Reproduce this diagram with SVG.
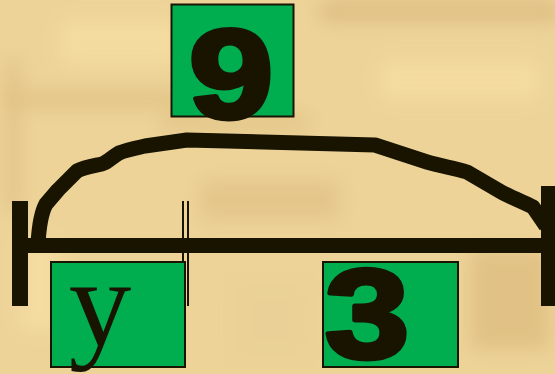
<svg xmlns="http://www.w3.org/2000/svg" width="555" height="374" viewBox="0 0 555 374">
  <style>
    .ink { fill: #181400; }
    .box { fill: #00AE50; stroke: #181400; stroke-width: 2; }
    .num { font-family: "Liberation Sans", Arial, sans-serif; font-weight: bold; font-size: 126px; fill: #181400; stroke: #181400; stroke-width: 5; stroke-linejoin: round; text-anchor: middle; }
    .var { font-family: "Liberation Serif", "Times New Roman", serif; font-size: 125px; fill: #181400; text-anchor: middle; }
  </style>
  <defs>
    <filter id="blur" x="-50%" y="-50%" width="200%" height="200%">
      <feGaussianBlur stdDeviation="9"/>
    </filter>
  </defs>
  <g id="background">
    <rect width="555" height="374" fill="#EDD398"/>
    <g filter="url(#blur)" opacity="0.85">
      <rect x="320" y="0" width="240" height="22" fill="#DCBC80"/>
      <rect x="0" y="90" width="200" height="18" fill="#E0C285"/>
      <rect x="160" y="115" width="150" height="15" fill="#E0C285"/>
      <rect x="6" y="60" width="14" height="150" fill="#DFBF82"/>
      <rect x="60" y="20" width="120" height="45" fill="#F5DCA0"/>
      <rect x="380" y="60" width="160" height="40" fill="#F5DCA0"/>
      <rect x="200" y="180" width="140" height="40" fill="#E2C488"/>
      <rect x="470" y="250" width="80" height="100" fill="#DFBF82"/>
      <rect x="20" y="240" width="40" height="90" fill="#F6DDA2"/>
      <rect x="230" y="280" width="80" height="80" fill="#EAD096"/>
    </g>
  </g>
  <g id="connectors">
    <rect id="tick-a" x="182" y="201" width="2" height="105" class="ink"/>
    <rect id="tick-b" x="187" y="201" width="2" height="105" class="ink"/>
    <rect id="segment" x="27" y="238" width="515" height="15" class="ink"/>
    <rect id="left-bar" x="12" y="201" width="16" height="105" class="ink"/>
    <rect id="right-bar" x="541" y="186" width="14" height="120" class="ink"/>
    <path id="brace" d="M38,244 C39,226 41,213 46,204 L58,190 L77,171 C85,167 93,166 102,164 C108,162 112,157 119,153 C126,150 136,148 145,146 L187,140 L375,145 L427,162 C440,166 455,168 467,172 L503,193 C515,199 525,203 533,207 L546,226" fill="none" stroke="#181400" stroke-width="15" stroke-linejoin="round"/>
  </g>
  <g id="node-9">
    <rect x="171.5" y="4.5" width="122" height="112" class="box"/>
    <text class="num" transform="translate(231,118) scale(1.2,1)" x="0" y="0">9</text>
  </g>
  <g id="node-y">
    <rect x="51" y="262" width="134" height="105" class="box"/>
    <text class="var" x="100" y="345">y</text>
  </g>
  <g id="node-3">
    <rect x="323" y="262" width="135" height="105" class="box"/>
    <text class="num" transform="translate(367,358) scale(1.2,1)" x="0" y="0">3</text>
  </g>
</svg>
